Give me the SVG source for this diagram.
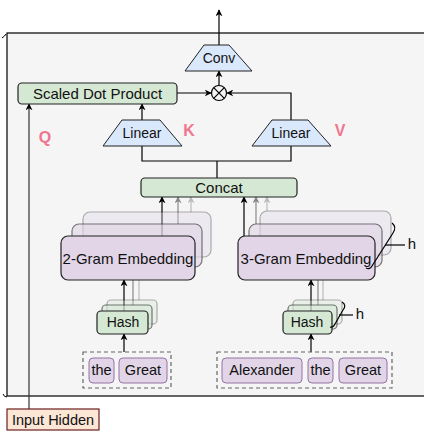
<svg xmlns="http://www.w3.org/2000/svg" width="424" height="435" viewBox="0 0 424 435">
<defs>
<marker id="ah" viewBox="0 0 10 10" refX="9" refY="5" markerWidth="7" markerHeight="7" orient="auto" markerUnits="userSpaceOnUse"><path d="M0,0 L10,5 L0,10 L3,5 z" fill="#000"/></marker>
<marker id="ahg" viewBox="0 0 10 10" refX="9" refY="5" markerWidth="7" markerHeight="7" orient="auto" markerUnits="userSpaceOnUse"><path d="M0,0 L10,5 L0,10 L3,5 z" fill="#888"/></marker>
<marker id="ahl" viewBox="0 0 10 10" refX="9" refY="5" markerWidth="7" markerHeight="7" orient="auto" markerUnits="userSpaceOnUse"><path d="M0,0 L10,5 L0,10 L3,5 z" fill="#bbb"/></marker>
</defs>
<style>
text{font-family:"Liberation Sans",Arial,sans-serif;fill:#111;text-anchor:middle;dominant-baseline:central}
.trap{fill:#dae8fc;stroke:#222;stroke-width:1}
.green{fill:#d5e8d4;stroke:#222;stroke-width:1.2}
.emb{fill:#e1d5e7;stroke:#222;stroke-width:1.2}
.tok{fill:#e1d5e7;stroke:#9673a6;stroke-width:1}
.dash{fill:none;stroke:#666;stroke-width:1.2;stroke-dasharray:4,3}
.ln{fill:none;stroke:#000;stroke-width:1.2}
.lg{fill:none;stroke:#888;stroke-width:1.2}
.ll{fill:none;stroke:#bbb;stroke-width:1.2}
.lbl{font-weight:bold;fill:#f0758f;font-size:16px}
</style>
<rect x="0" y="0" width="424" height="435" fill="#fff"/>
<g id="frame">
<rect x="7" y="33" width="430" height="363" fill="#f5f5f5" stroke="#000" stroke-width="1.2"/>
<path d="M2 38 Q5 36 6 34" fill="none" stroke="#000" stroke-width="1"/>
<path d="M3 394 Q4 397 7 397" fill="none" stroke="#000" stroke-width="1"/>
</g>
<g id="connectors">
<line class="ln" x1="219" y1="45" x2="219" y2="10" marker-end="url(#ah)"/>
<line class="ln" x1="219" y1="86" x2="219" y2="71" marker-end="url(#ah)"/>
<line class="ln" x1="177" y1="93" x2="211" y2="93" marker-end="url(#ah)"/>
<polyline class="ln" points="291,120 291,93 227,93" marker-end="url(#ah)"/>
<line class="ln" x1="142" y1="120" x2="142" y2="104" marker-end="url(#ah)"/>
<line x1="29" y1="409" x2="29" y2="104" stroke="#333" stroke-width="1.2" marker-end="url(#ah)"/>
<polyline class="ln" points="142,146 142,161 291,161 291,146"/>
<line class="ln" x1="217" y1="161" x2="217" y2="178"/>
<line class="ln" x1="162" y1="236" x2="162" y2="197" marker-end="url(#ah)"/>
<line class="lg" x1="178" y1="224" x2="178" y2="197" marker-end="url(#ahg)"/>
<line class="ll" x1="191" y1="212" x2="191" y2="197" marker-end="url(#ahl)"/>
<line class="ln" x1="244" y1="236" x2="244" y2="197" marker-end="url(#ah)"/>
<line class="lg" x1="256" y1="224" x2="256" y2="197" marker-end="url(#ahg)"/>
<line class="ll" x1="267" y1="211" x2="267" y2="197" marker-end="url(#ahl)"/>
<line class="lg" x1="133" y1="305" x2="133" y2="280"/>
<line class="ll" x1="139" y1="300" x2="139" y2="280"/>
<line class="lg" x1="318" y1="305" x2="318" y2="280"/>
<line class="ll" x1="323" y1="300" x2="323" y2="280"/>
<line class="ln" x1="124" y1="311" x2="124" y2="280" marker-end="url(#ah)"/>
<line class="ln" x1="311" y1="311" x2="311" y2="280" marker-end="url(#ah)"/>
<line class="ln" x1="124" y1="352" x2="124" y2="334" marker-end="url(#ah)"/>
<line class="ln" x1="311" y1="352" x2="311" y2="334" marker-end="url(#ah)"/>
</g>
<g id="conv">
<polygon class="trap" points="204,45 229,45 252,71 185,71"/>
<text x="219" y="58" font-size="14">Conv</text>
</g>
<g id="mult">
<circle cx="219" cy="93" r="7.5" fill="#f5f5f5" stroke="#000" stroke-width="1.2"/>
<path d="M213.7 87.7 L224.3 98.3 M224.3 87.7 L213.7 98.3" stroke="#000" stroke-width="1.2"/>
</g>
<g id="sdp">
<rect class="green" x="18" y="83" width="159" height="21" rx="4"/>
<text x="97.5" y="93.5" font-size="15">Scaled Dot Product</text>
</g>
<g id="linear-k">
<polygon class="trap" points="122,120 160,120 182,146 103,146"/>
<text x="142" y="133" font-size="14">Linear</text>
</g>
<g id="linear-v">
<polygon class="trap" points="272,120 308,120 331,146 252,146"/>
<text x="291" y="133" font-size="14">Linear</text>
</g>
<text class="lbl" x="45" y="137">Q</text>
<text class="lbl" x="189" y="130">K</text>
<text class="lbl" x="340" y="130">V</text>
<g id="concat">
<rect class="green" x="141" y="178" width="156" height="19" rx="4"/>
<text x="219" y="187.5" font-size="15">Concat</text>
</g>
<g id="emb2">
<rect class="emb" x="83" y="212" width="128" height="45" rx="7" opacity="0.35"/>
<rect class="emb" x="72" y="224" width="130" height="43" rx="7" opacity="0.6"/>
<rect class="emb" x="61" y="236" width="134" height="44" rx="7"/>
<text x="128" y="258" font-size="15">2-Gram Embedding</text>
</g>
<g id="emb3">
<rect class="emb" x="260" y="211" width="131" height="44" rx="7" opacity="0.35"/>
<rect class="emb" x="249" y="224" width="133" height="43" rx="7" opacity="0.6"/>
<rect class="emb" x="238" y="236" width="137" height="44" rx="7"/>
<text x="306" y="258" font-size="15">3-Gram Embedding</text>
<path d="M392 223 Q397 227 393 233 L372 266 Q370 270 366 268" fill="none" stroke="#000" stroke-width="1.2"/>
<line x1="385" y1="245" x2="405" y2="245" stroke="#000" stroke-width="1.2"/>
<text x="412" y="243" font-size="15">h</text>
</g>
<g id="hash2">
<rect class="green" x="107" y="300" width="50" height="24" rx="4" opacity="0.35"/>
<rect class="green" x="102" y="305" width="50" height="24" rx="4" opacity="0.6"/>
<rect class="green" x="97" y="311" width="51" height="23" rx="4"/>
<text x="123" y="322" font-size="14">Hash</text>
</g>
<g id="hash3">
<rect class="green" x="293" y="300" width="49" height="24" rx="4" opacity="0.35"/>
<rect class="green" x="288" y="305" width="49" height="24" rx="4" opacity="0.6"/>
<rect class="green" x="283" y="311" width="49" height="23" rx="4"/>
<text x="307" y="322" font-size="14">Hash</text>
<path d="M342 302 Q347 305 343 310 L335 324 Q333 328 330 327" fill="none" stroke="#000" stroke-width="1.2"/>
<line x1="339" y1="315" x2="353" y2="315" stroke="#000" stroke-width="1.2"/>
<text x="360" y="313" font-size="15">h</text>
</g>
<g id="tokens2">
<rect class="dash" x="83" y="352" width="88" height="36"/>
<rect class="tok" x="89" y="358" width="25" height="25" rx="4"/>
<text x="101.5" y="370" font-size="14.5">the</text>
<rect class="tok" x="119" y="358" width="48" height="25" rx="4"/>
<text x="143" y="370" font-size="14.5">Great</text>
</g>
<g id="tokens3">
<rect class="dash" x="217" y="352" width="175" height="36"/>
<rect class="tok" x="222" y="358" width="80" height="25" rx="4"/>
<text x="262" y="370" font-size="14.5">Alexander</text>
<rect class="tok" x="308" y="358" width="25" height="25" rx="4"/>
<text x="320.5" y="370" font-size="14.5">the</text>
<rect class="tok" x="339" y="358" width="48" height="25" rx="4"/>
<text x="363" y="370" font-size="14.5">Great</text>
</g>
<g id="input-hidden">
<rect x="7" y="409" width="92" height="21" fill="#fce6d6" stroke="#6b1f1f" stroke-width="1.2"/>
<text x="53" y="419.5" font-size="14.5">Input Hidden</text>
</g>
</svg>
